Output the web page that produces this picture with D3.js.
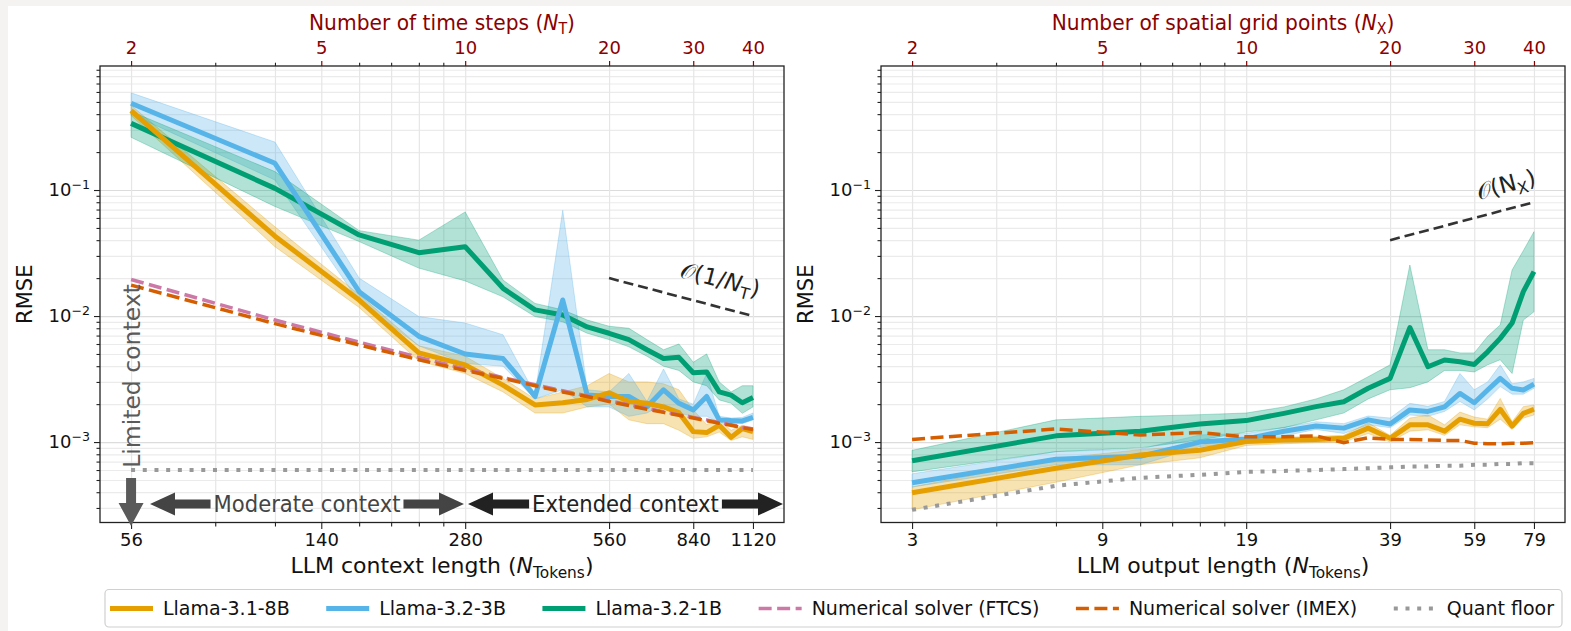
<!DOCTYPE html>
<html><head><meta charset="utf-8">
<script src="https://cdn.jsdelivr.net/npm/d3@7"></script>
<style>
body{margin:0;background:#f4f3f1;}
svg{display:block;font-family:"DejaVu Sans",sans-serif;}
</style></head><body>
<svg id="c" width="1571" height="631"></svg>
<script>
// ---------------- DATA ----------------
const N_T = [2,4,6,8,10,12,14,16,18,20,22,24,26,28,30,32,34,36,38,40];
const N_X = [2,4,6,8,10,12,14,16,18,20,22,24,26,28,30,32,34,36,38,40];
const majorSteps = [2,5,10,20,30,40];
const minorSteps = [3,4,6,7,8,9];
const contextTokenLabels = ["56","140","280","560","840","1120"];
const outputTokenLabels = ["3","9","19","39","59","79"];
const rmseTicks = [1e-3,1e-2,1e-1];
const rmseTickExp = ["\u22123","\u22122","\u22121"];

// Left panel: RMSE vs number of time steps
const L_8B    = [0.426,0.043,0.0134,0.0051,0.0041,0.00283,0.00197,0.00205,0.00218,0.00246,0.0021,0.00203,0.0019,0.00171,0.00121,0.00119,0.00136,0.00109,0.00128,0.00121];
const L_8B_lo = [0.39,0.0355,0.0117,0.0044,0.0035,0.0025,0.0017,0.0017,0.0019,0.0020,0.0015,0.0014,0.0014,0.00124,0.00107,0.0011,0.0012,0.00103,0.0011,0.00105];
const L_8B_hi = [0.47,0.051,0.0148,0.0058,0.0048,0.0032,0.0022,0.0025,0.0028,0.0035,0.0030,0.0030,0.0029,0.0026,0.0018,0.00138,0.0015,0.00124,0.00136,0.0013];
const L_3B    = [0.488,0.163,0.0156,0.0069,0.0050,0.0046,0.0023,0.0134,0.00236,0.0023,0.0023,0.0019,0.0026,0.00203,0.0018,0.0023,0.0015,0.00148,0.00147,0.00157];
const L_3B_lo = [0.40,0.12,0.013,0.0058,0.0042,0.0040,0.0022,0.0026,0.0019,0.0019,0.0016,0.0017,0.0020,0.0017,0.0016,0.0016,0.00143,0.0014,0.0014,0.0015];
const L_3B_hi = [0.59,0.24,0.020,0.0099,0.0088,0.0071,0.0024,0.069,0.0026,0.0025,0.0035,0.0021,0.0038,0.0022,0.0020,0.0035,0.0016,0.00155,0.00157,0.0017];
const L_1B    = [0.338,0.103,0.044,0.0318,0.0355,0.0166,0.0112,0.0102,0.0082,0.0073,0.0065,0.0054,0.0046,0.0047,0.00355,0.0036,0.0025,0.00236,0.00205,0.00226];
const L_1B_lo = [0.262,0.074,0.039,0.024,0.019,0.0142,0.0099,0.0090,0.0073,0.0065,0.0057,0.0048,0.0040,0.0037,0.0030,0.0028,0.00216,0.00203,0.00169,0.0019];
const L_1B_hi = [0.42,0.14,0.0476,0.040,0.067,0.0193,0.0126,0.0112,0.0093,0.0083,0.0080,0.0065,0.0054,0.0060,0.0043,0.0050,0.0030,0.0025,0.0028,0.0028];
const L_FTCS  = [0.0195,0.0093,0.0062,0.0047,0.0038,0.00325,0.00285,0.00255,0.00232,0.00213,0.00198,0.00185,0.00174,0.00165,0.00157,0.0015,0.00143,0.00137,0.00131,0.00127];
const L_IMEX  = [0.0176,0.0087,0.0059,0.0045,0.0037,0.0032,0.0028,0.0025,0.0023,0.0021,0.00195,0.00182,0.00172,0.00163,0.00155,0.00148,0.00141,0.00136,0.0013,0.00126];
const L_quant = [0.0006,0.0006,0.0006,0.0006,0.0006,0.0006,0.0006,0.0006,0.0006,0.0006,0.0006,0.0006,0.0006,0.0006,0.0006,0.0006,0.0006,0.0006,0.0006,0.0006];
const L_guideN = [20,40];
const L_guideV = [0.02,0.01];

// Right panel: RMSE vs number of spatial grid points
const R_8B    = [0.000396,0.00062,0.00079,0.00086,0.00101,0.00104,0.00105,0.00107,0.00129,0.00107,0.00137,0.00137,0.00122,0.00152,0.00141,0.0014,0.00182,0.00134,0.00169,0.00182];
const R_8B_lo = [0.00029,0.00048,0.00066,0.00075,0.00094,0.00097,0.00099,0.00100,0.00117,0.00100,0.00122,0.00125,0.00113,0.00137,0.00132,0.0013,0.00152,0.00126,0.00155,0.00164];
const R_8B_hi = [0.00044,0.00074,0.00087,0.00094,0.00109,0.00109,0.00111,0.00113,0.00142,0.00113,0.00155,0.00164,0.00137,0.00173,0.00158,0.00152,0.00222,0.00145,0.00191,0.00197];
const R_3B    = [0.000475,0.00073,0.00077,0.00100,0.00106,0.00122,0.00134,0.00129,0.0015,0.00139,0.0018,0.00175,0.0019,0.00243,0.00205,0.00259,0.0032,0.00267,0.00259,0.00288];
const R_3B_lo = [0.00044,0.00066,0.00066,0.00092,0.00100,0.00112,0.00126,0.00117,0.00137,0.0013,0.00164,0.0016,0.00175,0.0021,0.0018,0.0022,0.00276,0.0024,0.0024,0.00267];
const R_3B_hi = [0.00056,0.00084,0.00088,0.00114,0.00117,0.00131,0.00145,0.0014,0.00161,0.00155,0.00203,0.00192,0.0021,0.0035,0.0026,0.0030,0.0041,0.0029,0.0030,0.0032];
const R_1B    = [0.000711,0.00112,0.00122,0.00139,0.00148,0.00169,0.00191,0.00209,0.00267,0.0032,0.0081,0.00396,0.00448,0.00434,0.00413,0.0052,0.00665,0.0088,0.0156,0.0225];
const R_1B_lo = [0.00058,0.00084,0.0009,0.00104,0.0012,0.0013,0.0015,0.0017,0.0022,0.0026,0.0027,0.0030,0.0037,0.0037,0.0036,0.0041,0.0045,0.0035,0.0093,0.0108];
const R_1B_hi = [0.00086,0.0015,0.0016,0.00165,0.0017,0.0019,0.0022,0.0026,0.0033,0.0041,0.0254,0.0054,0.0054,0.0051,0.0051,0.0069,0.0085,0.0232,0.033,0.0467];
const R_IMEX  = [0.00105,0.00127,0.00114,0.00119,0.0011,0.0011,0.00112,0.00099,0.00108,0.00105,0.00105,0.00104,0.00103,0.00103,0.00098,0.00097,0.00097,0.00098,0.00098,0.00099];
const R_quant = [0.00029,0.00045,0.00052,0.00055,0.00058,0.00059,0.0006,0.00061,0.00062,0.00063,0.00064,0.00064,0.00065,0.00065,0.00066,0.00066,0.00067,0.00067,0.00068,0.00068];
const R_guideN = [20,40];
const R_guideV = [0.04,0.08];

const legendLabels = ["Llama-3.1-8B","Llama-3.2-3B","Llama-3.2-1B","Numerical solver (FTCS)","Numerical solver (IMEX)","Quant floor"];

// ---------------- STYLE ----------------
const C8 = "#E69F00", C3 = "#56B4E9", C1 = "#009E73", CF = "#CC79A7", CI = "#D55E00", CQ = "#999999";
const RED = "#8b0000";
const W = 1571, H = 631;
const TOP = 66, BOT = 522.5;
const xDomain = [1.722, 46.45];
const yDomain = [2.3e-4, 0.964];
const TICKF = 18, LABF = 22;

const svg = d3.select("#c");
svg.append("rect").attr("width", W).attr("height", H).attr("fill", "#f4f3f1");
svg.append("rect").attr("x", 8).attr("y", 6).attr("width", W - 8).attr("height", H - 6).attr("fill", "#fff");

function rich(text, parts, fs) {
  let shift = 0;
  parts.forEach(p => {
    const ts = text.append("tspan").text(p.t);
    if (p.it) ts.attr("font-style", "italic");
    if (p.sub) {
      ts.attr("font-size", fs * 0.7).attr("dy", fs * 0.22 - shift); shift = fs * 0.22;
    } else if (shift) { ts.attr("dy", -shift); shift = 0; }
  });
}

function panel(cfg) {
  const x = d3.scaleLog().domain(xDomain).range([cfg.x0, cfg.x1]);
  const y = d3.scaleLog().domain(yDomain).range([BOT, TOP]);
  const g = svg.append("g");
  const wid = cfg.x1 - cfg.x0, hei = BOT - TOP;

  // grid
  const gridY = [];
  for (let e = -4; e <= -1; e++) for (let m = 1; m <= 9; m++) { const v = +(m * Math.pow(10, e)).toPrecision(3); if (v >= yDomain[0] && v <= yDomain[1]) gridY.push(v); }
  const gridX = [2,3,4,5,6,7,8,9,10,20,30,40];
  const gy = g.append("g").attr("transform", `translate(${cfg.x0},0)`)
    .call(d3.axisLeft(y).tickValues(gridY).tickSize(-wid).tickFormat(""));
  gy.select(".domain").remove();
  gy.selectAll("line").attr("stroke", d => rmseTicks.includes(d) ? "#dcdcdc" : "#ebebeb").attr("stroke-width", 1.2);
  const gx = g.append("g").attr("transform", `translate(0,${BOT})`)
    .call(d3.axisBottom(x).tickValues(gridX).tickSize(-hei).tickFormat(""));
  gx.select(".domain").remove();
  gx.selectAll("line").attr("stroke", "#e6e6e6").attr("stroke-width", 1.2);

  const area = (lo, hi) => d3.area().x((d, i) => x(cfg.n[i])).y0((d, i) => y(lo[i])).y1((d, i) => y(hi[i]))(lo);
  const line = d3.line().x(d => x(d[0])).y(d => y(d[1]));
  const pts = arr => arr.map((v, i) => [cfg.n[i], v]);

  cfg.series.forEach(s => {
    g.append("path").attr("d", area(s.lo, s.hi)).attr("fill", s.c).attr("fill-opacity", 0.3)
      .attr("stroke", s.c).attr("stroke-opacity", 0.3).attr("stroke-width", 1);
  });
  [...cfg.series].reverse().forEach(s => {
    g.append("path").attr("d", line(pts(s.v))).attr("fill", "none").attr("stroke", s.c)
      .attr("stroke-width", 5).attr("stroke-linejoin", "round");
  });
  cfg.dashed.forEach(s => {
    g.append("path").attr("d", line(pts(s.v))).attr("fill", "none").attr("stroke", s.c)
      .attr("stroke-width", 3.5).attr("stroke-dasharray", "13,5.5");
  });
  g.append("path").attr("d", line(pts(cfg.quant))).attr("fill", "none").attr("stroke", CQ)
    .attr("stroke-width", 4).attr("stroke-dasharray", "4,7.7");

  // guide line
  const gp = cfg.guideN.map((n, i) => [n, cfg.guideV[i]]);
  g.append("path").attr("d", line(gp)).attr("fill", "none").attr("stroke", "#333")
    .attr("stroke-width", 2.6).attr("stroke-dasharray", "10,5");
  const ax1 = x(gp[0][0]), ay1 = y(gp[0][1]), ax2 = x(gp[1][0]), ay2 = y(gp[1][1]);
  const ang = Math.atan2(ay2 - ay1, ax2 - ax1) * 180 / Math.PI;
  const lx = ax1 + cfg.guideT * (ax2 - ax1), ly = ay1 + cfg.guideT * (ay2 - ay1) - cfg.guideOff;
  const gt = g.append("text").attr("transform", `translate(${lx},${ly}) rotate(${ang})`)
    .attr("text-anchor", "middle").attr("font-size", 23).attr("fill", "#222");
  rich(gt, cfg.guideParts, 23);

  // frame
  g.append("rect").attr("x", cfg.x0).attr("y", TOP).attr("width", wid).attr("height", hei)
    .attr("fill", "none").attr("stroke", "#222").attr("stroke-width", 1.3);

  // y axis
  const yMaj = g.append("g").attr("transform", `translate(${cfg.x0},0)`)
    .call(d3.axisLeft(y).tickValues(rmseTicks).tickSize(6).tickPadding(4).tickFormat(""));
  yMaj.selectAll(".tick text").each(function (d, i) {
    const t = d3.select(this).attr("font-size", TICKF).attr("font-family", "DejaVu Sans").attr("fill", "#111");
    t.append("tspan").text("10");
    t.append("tspan").text(rmseTickExp[i]).attr("font-size", TICKF * 0.7).attr("dy", -TICKF * 0.42);
  });
  const yMin = g.append("g").attr("transform", `translate(${cfg.x0},0)`)
    .call(d3.axisLeft(y).tickValues(gridY.filter(v => !rmseTicks.includes(v))).tickSize(3.5).tickFormat(""));
  [yMaj, yMin].forEach(a => { a.select(".domain").remove(); a.selectAll("line").attr("stroke", "#222").attr("stroke-width", 1.1); });

  // bottom axis
  const bMaj = g.append("g").attr("transform", `translate(0,${BOT})`)
    .call(d3.axisBottom(x).tickValues(majorSteps).tickSize(6.5).tickPadding(4).tickFormat((d, i) => cfg.botLabels[i]));
  bMaj.selectAll("text").attr("font-size", TICKF).attr("font-family", "DejaVu Sans").attr("fill", "#111");
  const bMin = g.append("g").attr("transform", `translate(0,${BOT})`)
    .call(d3.axisBottom(x).tickValues(minorSteps).tickSize(4).tickFormat(""));
  [bMaj, bMin].forEach(a => { a.select(".domain").remove(); a.selectAll("line").attr("stroke", "#222").attr("stroke-width", 1.1); });

  // top axis
  const tMaj = g.append("g").attr("transform", `translate(0,${TOP})`)
    .call(d3.axisTop(x).tickValues(majorSteps).tickSize(5).tickPadding(7).tickFormat(d => String(d)));
  tMaj.selectAll("text").attr("font-size", TICKF).attr("font-family", "DejaVu Sans").attr("fill", RED);
  tMaj.selectAll("line").attr("stroke", RED).attr("stroke-width", 1.2);
  const tMin = g.append("g").attr("transform", `translate(0,${TOP})`)
    .call(d3.axisTop(x).tickValues(minorSteps).tickSize(3.3).tickFormat(""));
  tMin.selectAll("line").attr("stroke", "#222").attr("stroke-width", 1.1);
  [tMaj, tMin].forEach(a => a.select(".domain").remove());

  // titles
  const cx = (cfg.x0 + cfg.x1) / 2;
  rich(g.append("text").attr("transform", `translate(${cx},29.5) scale(0.92,1)`).attr("text-anchor", "middle").attr("font-size", LABF).attr("fill", RED), cfg.topTitle, LABF);
  rich(g.append("text").attr("x", cx).attr("y", 573).attr("text-anchor", "middle").attr("font-size", LABF).attr("fill", "#111"), cfg.botTitle, LABF);
  g.append("text").attr("transform", `translate(${cfg.x0 - 68},${(TOP + BOT) / 2}) rotate(-90)`)
    .attr("text-anchor", "middle").attr("font-size", 21).attr("fill", "#111").text("RMSE");
  return {x, y, g};
}

const left = panel({
  x0: 100, x1: 784, n: N_T,
  series: [{v: L_8B, lo: L_8B_lo, hi: L_8B_hi, c: C8}, {v: L_3B, lo: L_3B_lo, hi: L_3B_hi, c: C3}, {v: L_1B, lo: L_1B_lo, hi: L_1B_hi, c: C1}],
  dashed: [{v: L_FTCS, c: CF}, {v: L_IMEX, c: CI}],
  quant: L_quant, guideN: L_guideN, guideV: L_guideV, guideT: 0.76, guideOff: 20,
  guideParts: [{t: "\u{1D4AA}(1/"}, {t: "N", it: true}, {t: "T", sub: true}, {t: ")"}],
  botLabels: contextTokenLabels,
  topTitle: [{t: "Number of time steps ("}, {t: "N", it: true}, {t: "T", sub: true}, {t: ")"}],
  botTitle: [{t: "LLM context length ("}, {t: "N", it: true}, {t: "Tokens", sub: true}, {t: ")"}]
});
const right = panel({
  x0: 881, x1: 1565, n: N_X,
  series: [{v: R_8B, lo: R_8B_lo, hi: R_8B_hi, c: C8}, {v: R_3B, lo: R_3B_lo, hi: R_3B_hi, c: C3}, {v: R_1B, lo: R_1B_lo, hi: R_1B_hi, c: C1}],
  dashed: [{v: R_IMEX, c: CI}],
  quant: R_quant, guideN: R_guideN, guideV: R_guideV, guideT: 0.82, guideOff: 17,
  guideParts: [{t: "\u{1D4AA}(N"}, {t: "X", sub: true}, {t: ")"}],
  botLabels: outputTokenLabels,
  topTitle: [{t: "Number of spatial grid points ("}, {t: "N", it: true}, {t: "X", sub: true}, {t: ")"}],
  botTitle: [{t: "LLM output length ("}, {t: "N", it: true}, {t: "Tokens", sub: true}, {t: ")"}]
});

// ---------------- context annotations (left panel) ----------------
const ax = left.x, ann = left.g;
const AY = 504;
ann.append("text").attr("transform", `translate(${ax(2) + 9},376) rotate(-90)`).attr("text-anchor", "middle")
  .attr("font-size", 23.5).attr("fill", "#5a5a5a").text("Limited context");
function arrowPoly(xTail, xTip, yc, sh, hh, hl) {
  const d = Math.sign(xTip - xTail), xb = xTip - d * hl;
  return [[xTail, yc - sh], [xb, yc - sh], [xb, yc - hh], [xTip, yc], [xb, yc + hh], [xb, yc + sh], [xTail, yc + sh]];
}
ann.append("polygon").attr("points", [[ax(2) - 5, 478], [ax(2) + 5, 478], [ax(2) + 5, 503], [ax(2) + 12.5, 503], [ax(2), 526], [ax(2) - 12.5, 503], [ax(2) - 5, 503]].join(" "))
  .attr("fill", "#5a5a5a");
function dblArrow(label, xTipL, xTipR, col) {
  const cxm = (xTipL + xTipR) / 2;
  const t = ann.append("text").attr("transform", `translate(${cxm},${AY}) scale(0.92,1)`).attr("dy", "0.36em").attr("text-anchor", "middle")
    .attr("font-size", 23).attr("fill", col).text(label);
  const half = t.node().getComputedTextLength() * 0.92 / 2;
  ann.append("polygon").attr("points", arrowPoly(cxm - half - 3, xTipL, AY, 4.5, 11.5, 25).join(" ")).attr("fill", col);
  ann.append("polygon").attr("points", arrowPoly(cxm + half + 3, xTipR, AY, 4.5, 11.5, 25).join(" ")).attr("fill", col);
}
dblArrow("Moderate context", 150, 464, "#444");
dblArrow("Extended context", 468, 783, "#222");

// ---------------- legend ----------------
const LG = svg.append("g");
const LX0 = 105, LX1 = 1562, LY0 = 589.5, LY1 = 627, LYC = 608.5, LF = 19;
LG.append("rect").attr("x", LX0).attr("y", LY0).attr("width", LX1 - LX0).attr("height", LY1 - LY0)
  .attr("rx", 4).attr("fill", "#fff").attr("stroke", "#d0d0d0").attr("stroke-width", 1.2);
const hStyles = [
  {c: C8, w: 5, da: null}, {c: C3, w: 5, da: null}, {c: C1, w: 5, da: null},
  {c: CF, w: 3.5, da: "13,5.5"}, {c: CI, w: 3.5, da: "13,5.5"}, {c: CQ, w: 4, da: "4,7.7"}
];
const texts = legendLabels.map(l => LG.append("text").attr("y", LYC).attr("dy", "0.35em").attr("font-size", LF).attr("fill", "#111").text(l));
const tw = texts.map(t => t.node().getComputedTextLength());
const HL = 43, HG = 10, startX = 110, endX = 1554;
const colSp = (endX - startX - legendLabels.length * (HL + HG) - d3.sum(tw)) / (legendLabels.length - 1);
let cur = startX;
legendLabels.forEach((l, i) => {
  const s = hStyles[i];
  const ln = LG.append("line").attr("x1", cur).attr("x2", cur + HL).attr("y1", LYC).attr("y2", LYC)
    .attr("stroke", s.c).attr("stroke-width", s.w);
  if (s.da) ln.attr("stroke-dasharray", s.da);
  texts[i].attr("x", cur + HL + HG);
  cur += HL + HG + tw[i] + colSp;
});
</script>
</body></html>
